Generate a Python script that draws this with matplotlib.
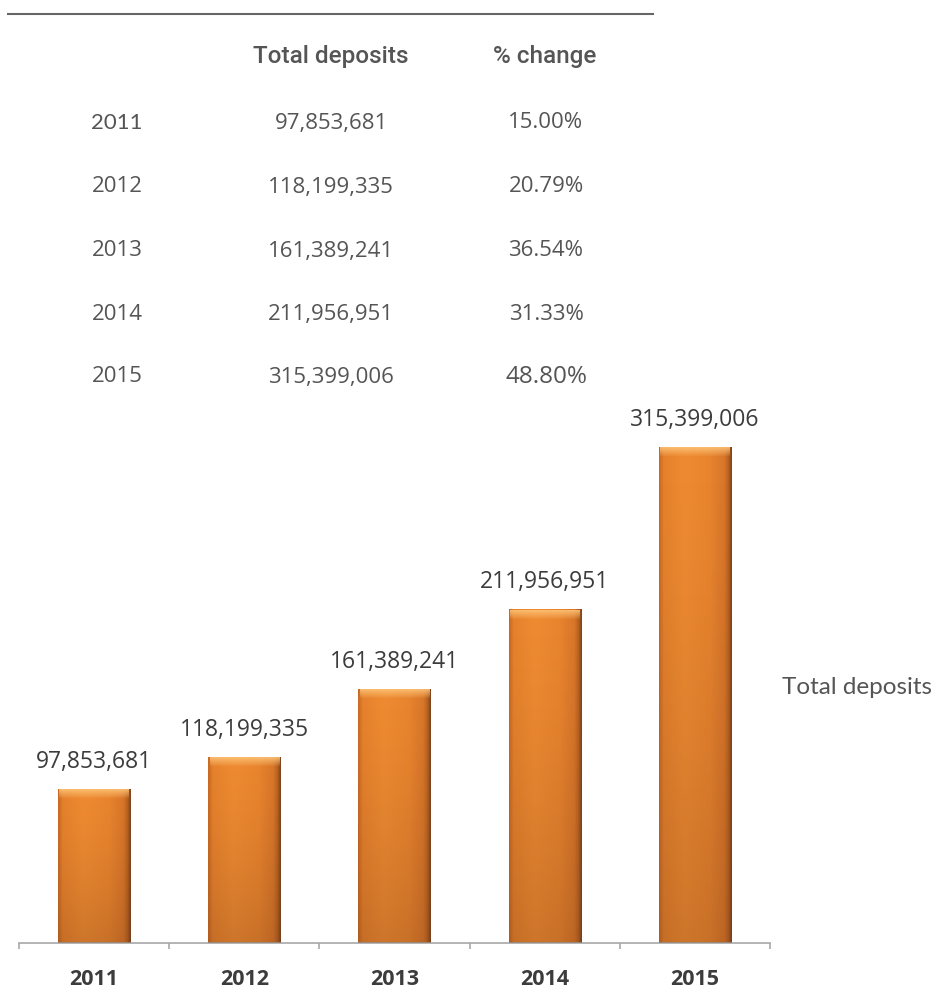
import numpy as np
import matplotlib
matplotlib.use("Agg")
import matplotlib.pyplot as plt
from matplotlib.lines import Line2D
from matplotlib.colors import LinearSegmentedColormap

years = ["2011", "2012", "2013", "2014", "2015"]
deposits = [97853681, 118199335, 161389241, 211956951, 315399006]
pct_change = ["15.00%", "20.79%", "36.54%", "31.33%", "48.80%"]

W, H = 940, 991
TXT = "#555555"
LBL = "#3c3c3c"


def fx(px):
    return px / W


def fy(py):
    return 1 - py / H


fig = plt.figure(figsize=(W / 100, H / 100), dpi=100)

# rule across the top of the table
fig.add_artist(Line2D([fx(8), fx(653)], [fy(14), fy(14)], color="#666666", lw=1.5))

# table header
fig.text(fx(331), fy(57), "Total deposits", ha="center", va="center",
         family=["Roboto", "DejaVu Sans"], weight="medium", fontsize=17.5, color=TXT)
fig.text(fx(545), fy(57), "% change", ha="center", va="center",
         family=["Roboto", "DejaVu Sans"], weight="medium", fontsize=17.5, color=TXT)

# table rows
row_y = [123, 187, 251, 314, 377]
for i, (yr, dep, pc) in enumerate(zip(years, deposits, pct_change)):
    yfam = ["Lato", "DejaVu Sans"] if i == 0 else ["Open Sans", "DejaVu Sans"]
    fig.text(fx(117), fy(row_y[i]), yr, ha="center", va="center",
             family=yfam, fontsize=16, color=TXT)
    fig.text(fx(331), fy(row_y[i]), f"{dep:,}", ha="center", va="center",
             family=["Open Sans", "DejaVu Sans"], fontsize=16, color=TXT)
    fig.text(fx(546), fy(row_y[i]), pc, ha="center", va="center",
             family=["Open Sans", "DejaVu Sans"], fontsize=16 if i < 4 else 17.5, color=TXT)

# side caption
fig.text(fx(782), fy(688), "Total deposits", ha="left", va="center",
         family=["Lato", "DejaVu Sans"], fontsize=17.5, color=TXT)

# bar chart
ax = fig.add_axes([fx(19), fy(943), (770 - 19) / W, (943 - 400) / H])
x = np.arange(len(years))
bars = ax.bar(x, deposits, width=0.48, color="#E8832A", zorder=2)

body = LinearSegmentedColormap.from_list(
    "body", [(0.0, "#C86A24"), (0.06, "#E5812C"), (0.35, "#EE8B32"),
             (0.7, "#E8842E"), (0.9, "#D8762A"), (0.96, "#B8621F"), (1.0, "#7E4520")])
grad = np.linspace(0, 1, 96)[None, :] * np.ones((64, 1))

for rect in bars:
    x0, w, h = rect.get_x(), rect.get_width(), rect.get_height()
    rect.set_facecolor("none")
    rect.set_edgecolor("none")
    ax.imshow(grad, cmap=body, extent=(x0, x0 + w, 0, h), origin="lower",
              aspect="auto", zorder=2, interpolation="bilinear")
    # darken toward the bottom
    shade = np.zeros((64, 2, 4))
    shade[..., 0:3] = [0.35, 0.18, 0.08]
    shade[..., 3] = ((1 - np.linspace(0, 1, 64)) ** 1.5)[:, None] * 0.22
    ax.imshow(shade, extent=(x0, x0 + w, 0, h), origin="lower", aspect="auto",
              zorder=3, interpolation="bilinear")
    # light rim along the top
    cap = max(deposits) * 0.018
    top = np.zeros((16, 2, 4))
    top[..., 0:3] = [1.0, 0.78, 0.48]
    top[..., 3] = np.linspace(0.1, 0.85, 16)[:, None]
    ax.imshow(top, extent=(x0 + w * 0.02, x0 + w * 0.98, h - cap, h), origin="lower",
              aspect="auto", zorder=4, interpolation="bilinear")

for xi, v in zip(x, deposits):
    ax.annotate(f"{v:,}", (xi, v), xytext=(0, 11), textcoords="offset points",
                ha="center", va="bottom", family=["Open Sans", "DejaVu Sans"],
                fontsize=16.5, color=LBL)

ax.set_xlim(-0.5, len(years) - 0.5)
ax.set_ylim(0, max(deposits) * 1.095)
for s in ["top", "right", "left"]:
    ax.spines[s].set_visible(False)
ax.spines["bottom"].set_color("#A8A8A8")
ax.spines["bottom"].set_linewidth(1.2)
ax.set_yticks([])
ax.set_xticks(x)
ax.set_xticklabels(years, family=["Open Sans", "DejaVu Sans"], weight="bold",
                   fontsize=15.5, color=LBL)
ax.tick_params(axis="x", which="major", length=0, pad=19)
ax.set_xticks(np.arange(-0.5, len(years)), minor=True)
ax.tick_params(axis="x", which="minor", length=4, color="#A8A8A8", width=1.2)

fig.savefig("out.png", dpi=100)
